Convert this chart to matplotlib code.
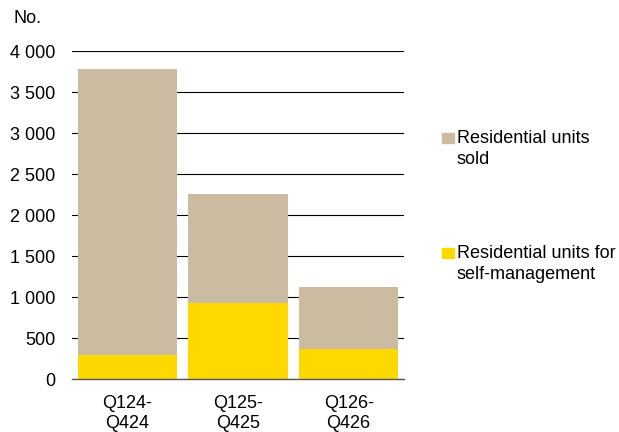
import numpy as np
import matplotlib.pyplot as plt
from matplotlib.patches import Rectangle

plt.rcParams['font.family'] = ['Liberation Sans', 'DejaVu Sans']

periods = ['Q124-\nQ424', 'Q125-\nQ425', 'Q126-\nQ426']
self_managed = np.array([300, 935, 372])
total_units = np.array([3785, 2262, 1130])
sold = total_units - self_managed
series_labels = ['Residential units\nsold', 'Residential units for\nself-management']
colors = ['#CBBBA0', '#FFD800']

fig = plt.figure(figsize=(6.19, 4.32), dpi=100)
ax = fig.add_axes([0.1163, 0.122, 0.5364, 0.759])

x = np.arange(len(periods))
ax.bar(x, self_managed, width=0.9, color=colors[1], zorder=3)
ax.bar(x, sold, width=0.9, bottom=self_managed, color=colors[0], zorder=3)

ax.set_xlim(-0.5, 2.5)
ax.set_ylim(0, 4000)
ax.set_yticks(np.arange(0, 4001, 500))
ax.set_yticklabels([f'{v:,}'.replace(',', ' ') for v in range(0, 4001, 500)])
ax.set_xticks(x)
ax.set_xticklabels(periods, linespacing=1.25)
ax.tick_params(axis='both', length=0, labelsize=13, colors='black')
ax.tick_params(axis='y', pad=12)
ax.tick_params(axis='x', pad=11)
ax.yaxis.grid(True, color='black', linewidth=0.8, zorder=0)
ax.set_axisbelow(True)
for s in ['top', 'right', 'left']:
    ax.spines[s].set_visible(False)
ax.spines['bottom'].set_color('#555555')
ax.spines['bottom'].set_linewidth(1.0)
ax.spines['bottom'].set_zorder(4)

fig.text(0.022, 0.958, 'No.', fontsize=13, va='center', ha='left')

# legend entries drawn in figure coordinates
legend_y = [0.681, 0.414]
for col, lab, yy in zip(colors, series_labels, legend_y):
    fig.patches.append(Rectangle((0.714, yy - 0.0115), 0.0194, 0.023,
                                 transform=fig.transFigure, color=col))
    fig.text(0.738, yy + 0.019, lab, fontsize=13, va='top', ha='left',
             linespacing=1.3)

fig.savefig('out.png', dpi=100)
